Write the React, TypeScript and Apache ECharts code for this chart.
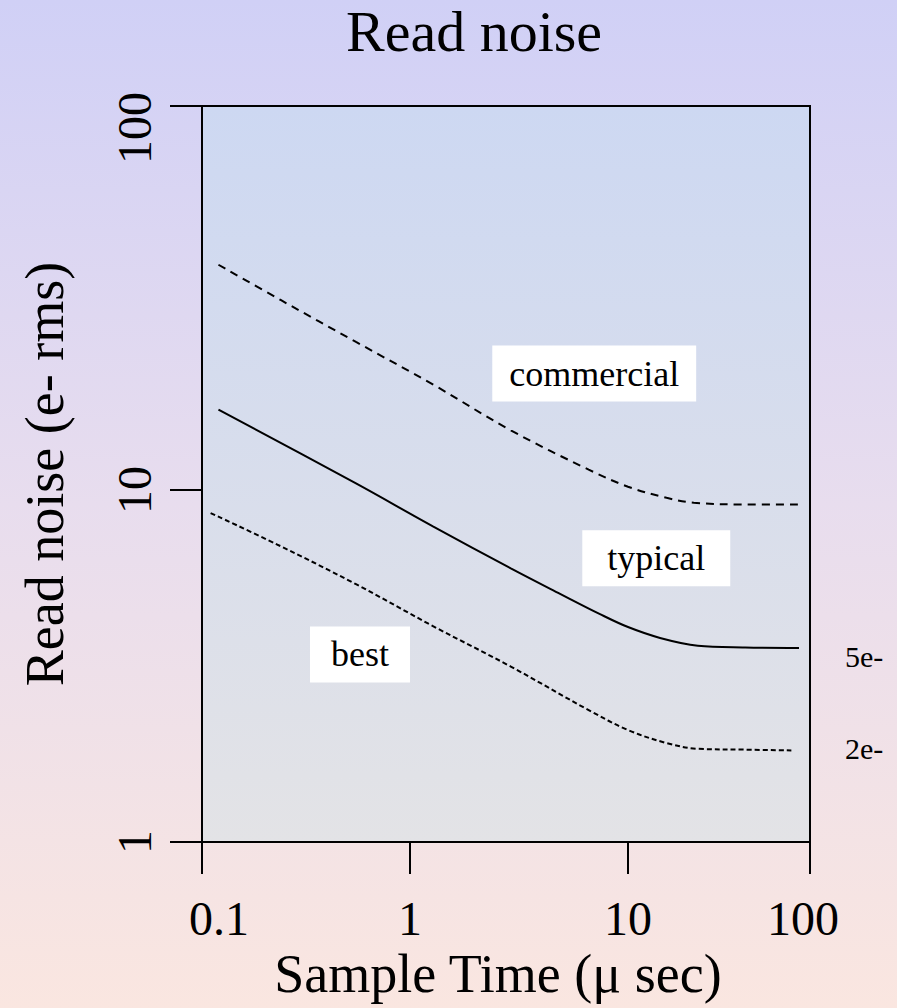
import React, { useEffect, useRef } from "react";
import * as echarts from "echarts";

// ---- data ----
const X_TICKS = [0.1, 1, 10, 100];
const X_TICK_LABELS = ["0.1", "1", "10", "100"];
const Y_TICKS = [1, 10, 100];
const Y_TICK_LABELS = ["1", "10", "100"];

// relative drawn length of each decade on the original (hand-scaled) axes
const X_DECADE_SPANS = [208, 218, 182];
const Y_DECADE_SPANS = [352, 384];

const commercialTime = [0.12, 0.24, 0.55, 1.28, 2.9, 6.6, 10, 16.3, 23, 44, 87];
const commercialNoise = [38.6, 31.2, 24.3, 18.8, 14.3, 11.3, 10.2, 9.5, 9.2, 9.1, 9.1];

const typicalTime = [0.12, 0.55, 1.28, 2.9, 4.88, 7.44, 10, 15, 24.2, 44, 87];
const typicalNoise = [16.2, 10.4, 7.87, 5.99, 5.07, 4.44, 4.08, 3.8, 3.61, 3.57, 3.56];

const bestTime = [0.11, 0.23, 0.55, 1.28, 2.9, 6.6, 10, 16.3, 24.2, 44, 79];
const bestNoise = [8.6, 7.0, 5.4, 4.1, 3.15, 2.37, 2.08, 1.91, 1.84, 1.83, 1.82];

const noteNames = ["commercial", "typical", "best"];
const noteTime = [7.0, 14.3, 0.575];
const noteNoise = [20.1, 6.4, 3.41];

const levelLabels = ["5e-", "2e-"];

const TITLE = "Read noise";
const X_NAME = "Sample Time (\u03bc sec)";
const Y_NAME = "Read noise (e- rms)";

// ---- helpers ----
function makeWarp(ticks: number[], spans: number[]) {
  const logs = ticks.map((t) => Math.log10(t));
  const cum = [0];
  spans.forEach((s, i) => cum.push(cum[i] + s));
  const f = (v: number) => {
    const l = Math.log10(v);
    let i = 0;
    while (i < spans.length - 1 && l > logs[i + 1]) i++;
    return cum[i] + ((l - logs[i]) / (logs[i + 1] - logs[i])) * spans[i];
  };
  return { f, cum };
}

const FONT = "Liberation Serif, Times New Roman, serif";

export default function App() {
  const ref = useRef<HTMLDivElement>(null);

  useEffect(() => {
    if (!ref.current) return;
    const chart = echarts.init(ref.current, undefined, { renderer: "svg" });
    const wx = makeWarp(X_TICKS, X_DECADE_SPANS);
    const wy = makeWarp(Y_TICKS, Y_DECADE_SPANS);
    const pts = (ts: number[], ns: number[]) => ts.map((t, i) => [wx.f(t), wy.f(ns[i])]);

    const xLabelOf = (v: number) => {
      const k = wx.cum.findIndex((c) => Math.abs(c - v) < 1e-6);
      if (k < 0) return "";
      if (k === 0) return `{first|${X_TICK_LABELS[k]}}`;
      if (k === X_TICK_LABELS.length - 1) return `{last|${X_TICK_LABELS[k]}}`;
      return `{mid|${X_TICK_LABELS[k]}}`;
    };
    const yLabelOf = (v: number) => {
      const k = wy.cum.findIndex((c) => Math.abs(c - v) < 1e-6);
      if (k < 0) return "";
      if (k === Y_TICK_LABELS.length - 1) return `{last|${Y_TICK_LABELS[k]}}`;
      return `{mid|${Y_TICK_LABELS[k]}}`;
    };
    const lblStyle = { fontFamily: FONT, fontSize: 48, color: "#000" };
    const xMax = wx.cum[wx.cum.length - 1];
    const yMax = wy.cum[wy.cum.length - 1];

    const option: any = {
      animation: false,
      backgroundColor: {
        type: "linear", x: 0, y: 0, x2: 0, y2: 1,
        colorStops: [
          { offset: 0, color: "#d0d0f6" },
          { offset: 0.5, color: "#e8ddee" },
          { offset: 1, color: "#fae6e0" },
        ],
      },
      grid: {
        left: 202, top: 106, width: 608, height: 736,
        show: true,
        borderColor: "#000",
        borderWidth: 2,
        backgroundColor: {
          type: "linear", x: 0, y: 0, x2: 0, y2: 1,
          colorStops: [
            { offset: 0, color: "#cdd8f2" },
            { offset: 1, color: "#e3e3e6" },
          ],
        },
      },
      xAxis: {
        type: "value",
        min: 0,
        max: xMax,
        name: X_NAME,
        nameLocation: "middle",
        nameGap: 104,
        nameTextStyle: { fontFamily: FONT, fontSize: 54, color: "#000", padding: [0, 16, 0, 0] },
        axisLine: { show: false },
        splitLine: { show: false },
        axisTick: {
          show: true, inside: false, length: 32,
          customValues: wx.cum,
          lineStyle: { color: "#000", width: 2 },
        },
        axisLabel: {
          show: true,
          customValues: wx.cum,
          margin: 52,
          formatter: xLabelOf,
          rich: {
            first: { ...lblStyle, padding: [0, 0, 0, 34] },
            mid: { ...lblStyle },
            last: { ...lblStyle, padding: [0, 14, 0, 0] },
          },
        },
      },
      yAxis: {
        type: "value",
        min: 0,
        max: yMax,
        name: Y_NAME,
        nameLocation: "middle",
        nameGap: 130,
        nameTextStyle: { fontFamily: FONT, fontSize: 54, color: "#000" },
        axisLine: { show: false },
        splitLine: { show: false },
        axisTick: {
          show: true, inside: false, length: 32,
          customValues: wy.cum,
          lineStyle: { color: "#000", width: 2 },
        },
        axisLabel: {
          show: true,
          rotate: 90,
          customValues: wy.cum,
          margin: 44,
          formatter: yLabelOf,
          rich: {
            mid: { ...lblStyle },
            last: { ...lblStyle, padding: [0, 44, 0, 0] },
          },
        },
      },
      graphic: [
        {
          type: "text", x: 474, y: 31,
          style: { text: TITLE, fontFamily: FONT, fontSize: 58, fill: "#000", textAlign: "center", textVerticalAlign: "middle" },
        },
        {
          type: "text", x: 845, y: 656,
          style: { text: levelLabels[0], fontFamily: FONT, fontSize: 30, fill: "#000", textAlign: "left", textVerticalAlign: "middle" },
        },
        {
          type: "text", x: 845, y: 748,
          style: { text: levelLabels[1], fontFamily: FONT, fontSize: 30, fill: "#000", textAlign: "left", textVerticalAlign: "middle" },
        },
      ],
      series: [
        {
          name: "commercial", type: "line", showSymbol: false, smooth: 0.35,
          data: pts(commercialTime, commercialNoise),
          lineStyle: { color: "#000", width: 2, type: [8, 6] },
        },
        {
          name: "typical", type: "line", showSymbol: false, smooth: 0.35,
          data: pts(typicalTime, typicalNoise),
          lineStyle: { color: "#000", width: 2, type: "solid" },
        },
        {
          name: "best", type: "line", showSymbol: false, smooth: 0.35,
          data: pts(bestTime, bestNoise),
          lineStyle: { color: "#000", width: 2, type: [5, 3] },
        },
        {
          name: "notes", type: "scatter", symbolSize: 1, z: 5,
          itemStyle: { color: "rgba(0,0,0,0)", opacity: 1 },
          emphasis: { disabled: true },
          label: {
            show: true, position: "inside", formatter: "{b}",
            fontFamily: FONT, fontSize: 36, lineHeight: 36, color: "#000",
            backgroundColor: "#fff", opacity: 1,
          },
          data: noteNames.map((n, i) => ({
            name: n,
            value: [wx.f(noteTime[i]), wy.f(noteNoise[i])],
            label: { padding: [[10, 17], [10, 25], [10, 21]][i] },
          })),
        },
      ],
    };
    chart.setOption(option);
    return () => chart.dispose();
  }, []);

  return (
    <div
      ref={ref}
      style={{ position: "fixed", left: 0, top: 0, width: 897, height: 1008 }}
    />
  );
}
